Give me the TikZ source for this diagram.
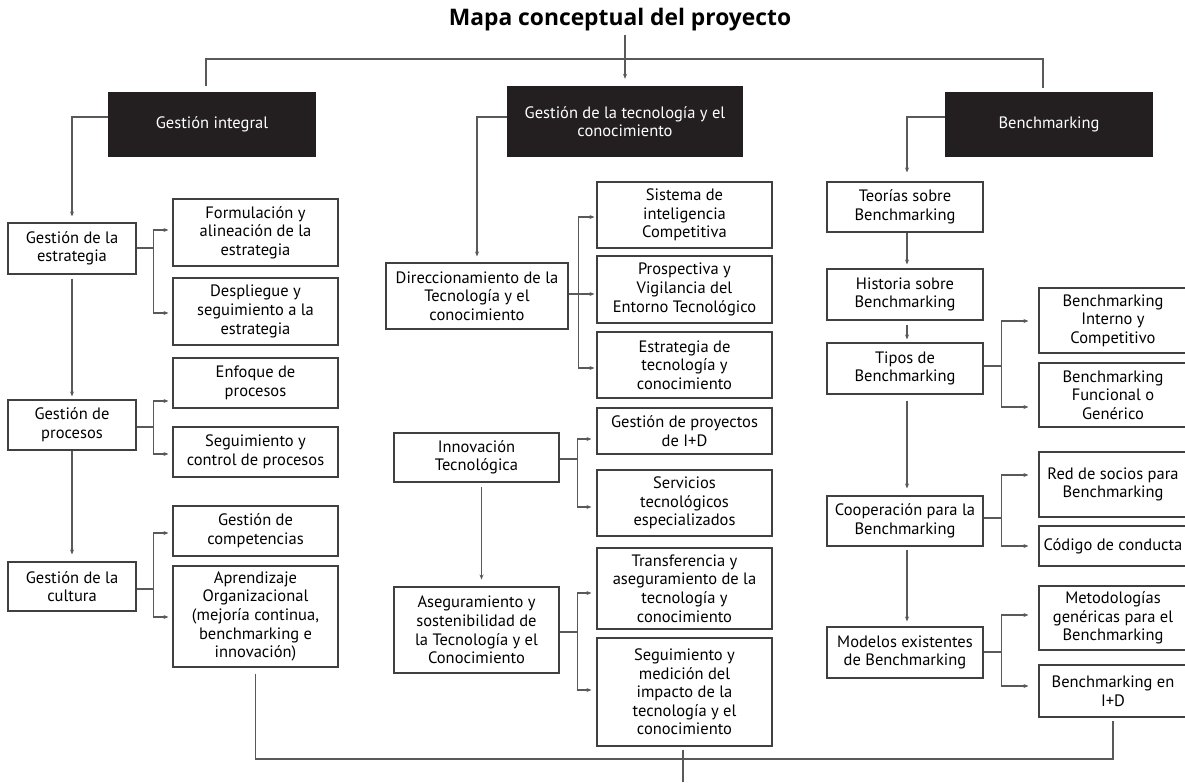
\documentclass[tikz,border=0pt]{standalone}
\usepackage{fontspec}
\setmainfont{PT Sans}
\newfontfamily\titlefont{Open Sans}
\usetikzlibrary{arrows.meta}
\definecolor{headFill}{HTML}{231F20}
\definecolor{lineGray}{HTML}{58595B}
\begin{document}
\begin{tikzpicture}
        [x=1pt, y=-1pt,
        box/.style={rectangle, draw=black!75, line width=1.1pt, align=center, inner sep=0pt, font=\fontsize{16.5}{18.6}\selectfont},
        boxHead/.style={rectangle, fill=headFill, text=white, align=center, inner sep=0pt, font=\fontsize{16.5}{18.6}\selectfont},
        conn/.style={draw=lineGray, line width=1.1pt},
        >={Stealth[length=5pt, width=4pt]}]
        \useasboundingbox (0,0) rectangle (1185,782);
        \node[font=\titlefont\bfseries\fontsize{22.8}{26}\selectfont] (title) at (620,20) {Mapa conceptual del proyecto};
        % heads
        \node[boxHead, minimum width=208pt, minimum height=65pt] (gi) at (212,124.5) {Gestión integral};
        \node[boxHead, minimum width=236pt, minimum height=71pt] (gt) at (625,121.5) {Gestión de la tecnología y el\\conocimiento};
        \node[boxHead, minimum width=208pt, minimum height=65pt] (bm) at (1049,124.5) {Benchmarking};
        % gestion integral
        \node[box, minimum width=128pt, minimum height=51pt] (estr) at (72,248.5) {Gestión de la\\estrategia};
        \node[box, minimum width=128pt, minimum height=50pt] (proc) at (72,425) {Gestión de\\procesos};
        \node[box, minimum width=128pt, minimum height=49pt] (cult) at (72,586.5) {Gestión de la\\cultura};
        \node[box, minimum width=165pt, minimum height=67pt] (form) at (255.5,232.5) {Formulación y\\alineación de la\\estrategia};
        \node[box, minimum width=165pt, minimum height=67pt] (desp) at (255.5,311.5) {Despliegue y\\seguimiento a la\\estrategia};
        \node[box, minimum width=165pt, minimum height=50pt] (enfo) at (255.5,383) {Enfoque de\\procesos};
        \node[box, minimum width=165pt, minimum height=50pt] (segc) at (255.5,452) {Seguimiento y\\control de procesos};
        \node[box, minimum width=165pt, minimum height=50pt] (comp) at (255.5,531) {Gestión de\\competencias};
        \node[box, minimum width=165pt, minimum height=101pt] (apre) at (255.5,616.5) {Aprendizaje\\Organizacional\\(mejoría continua,\\benchmarking e\\innovación)};
        % tecnologia y conocimiento
        \node[box, minimum width=182pt, minimum height=66pt] (dir) at (477,296) {Direccionamiento de la\\Tecnología y el\\conocimiento};
        \node[box, minimum width=165pt, minimum height=49pt] (inn) at (476.5,457.5) {Innovación\\Tecnológica};
        \node[box, minimum width=165pt, minimum height=86pt] (ase) at (476.5,630) {Aseguramiento y\\sostenibilidad de\\la Tecnología y el\\Conocimiento};
        \node[box, minimum width=175pt, minimum height=66pt] (sis) at (684.5,215) {Sistema de\\inteligencia\\Competitiva};
        \node[box, minimum width=175pt, minimum height=67pt] (pro) at (684.5,289.5) {Prospectiva y\\Vigilancia del\\Entorno Tecnológico};
        \node[box, minimum width=175pt, minimum height=66pt] (est) at (684.5,365) {Estrategia de\\tecnología y\\conocimiento};
        \node[box, minimum width=175pt, minimum height=46pt] (gpy) at (684.5,431) {Gestión de proyectos\\de I+D};
        \node[box, minimum width=175pt, minimum height=66pt] (ser) at (684.5,503) {Servicios\\tecnológicos\\especializados};
        \node[box, minimum width=175pt, minimum height=81pt] (tra) at (684.5,588.5) {Transferencia y\\aseguramiento de la\\tecnología y\\conocimiento};
        \node[box, minimum width=175pt, minimum height=108pt] (sme) at (684.5,692) {Seguimiento y\\medición del\\impacto de la\\tecnología y el\\conocimiento};
        % benchmarking
        \node[box, minimum width=156pt, minimum height=50pt] (teo) at (905,207) {Teorías sobre\\Benchmarking};
        \node[box, minimum width=156pt, minimum height=51pt] (his) at (905,294.5) {Historia sobre\\Benchmarking};
        \node[box, minimum width=156pt, minimum height=51pt] (tip) at (905,368.5) {Tipos de\\Benchmarking};
        \node[box, minimum width=156pt, minimum height=50pt] (coo) at (905,521) {Cooperación para la\\Benchmarking};
        \node[box, minimum width=156pt, minimum height=51pt] (mod) at (905,652.5) {Modelos existentes\\de Benchmarking};
        \node[box, minimum width=148pt, minimum height=65pt] (bin) at (1113,320.5) {Benchmarking\\Interno y\\Competitivo};
        \node[box, minimum width=148pt, minimum height=64pt] (bfu) at (1113,395) {Benchmarking\\Funcional o\\Genérico};
        \node[box, minimum width=148pt, minimum height=65pt] (red) at (1113,484.5) {Red de socios para\\Benchmarking};
        \node[box, minimum width=148pt, minimum height=40pt] (cod) at (1113,546) {Código de conducta};
        \node[box, minimum width=148pt, minimum height=64pt] (met) at (1113,618) {Metodologías\\genéricas para el\\Benchmarking};
        \node[box, minimum width=148pt, minimum height=52pt] (bid) at (1113,691) {Benchmarking en\\I+D};
        \coordinate (busL) at (206,86);
        \coordinate (busR) at (1043,88);

        \draw[conn, ->] (title.south -| gt.north) -- ([yshift=7pt]gt.north);
        \draw[conn] (busL) |- (busR |- 0,59) -- (busR);
        \draw[conn, ->] (gi.west |- 0,117) -| ([yshift=6pt]estr.north);
        \draw[conn, ->] (gt.west |- 0,117) -| ([yshift=6pt]dir.north);
        \draw[conn, ->] (bm.west |- 0,117) -| ([xshift=2pt, yshift=9pt]teo.north);

        \draw[conn, ->] ([yshift=-4pt]estr.south) -- ([yshift=3pt]proc.north);
        \draw[conn, ->] (proc.south) -- ([yshift=7pt]cult.north);
        \draw[conn, ->] (estr.east |- 0,248) -- ++(17,0) |- ([xshift=-4pt]form.west |- 0,230);
        \draw[conn, ->] (estr.east |- 0,248) -- ++(17,0) |- ([xshift=-4pt]desp.west |- 0,313);
        \draw[conn, ->] (proc.east |- 0,427) -- ++(17,0) |- ([xshift=-4pt]enfo.west |- 0,401);
        \draw[conn, ->] (proc.east |- 0,427) -- ++(17,0) |- ([xshift=-4pt]segc.west |- 0,454);
        \draw[conn, ->] (cult.east |- 0,589) -- ++(17,0) |- ([xshift=-4pt]comp.west |- 0,533);
        \draw[conn, ->] (cult.east |- 0,589) -- ++(17,0) |- ([xshift=-4pt]apre.west |- 0,617);

        \draw[conn, ->] ([xshift=5pt, yshift=-4pt]inn.south) -- ([xshift=5pt, yshift=7pt]ase.north);
        \draw[conn, ->] (dir.east |- 0,294) -- ++(10,0) |- ([xshift=-2pt]sis.west |- 0,217);
        \draw[conn, ->] (dir.east |- 0,294) -- ([xshift=-2pt]pro.west |- 0,294);
        \draw[conn, ->] (dir.east |- 0,294) -- ++(10,0) |- ([xshift=-2pt]est.west |- 0,368);
        \draw[conn, ->] (inn.east |- 0,459) -- ++(18,0) |- ([xshift=-5pt]gpy.west |- 0,439);
        \draw[conn, ->] (inn.east |- 0,459) -- ++(18,0) |- ([xshift=-5pt]ser.west |- 0,507);
        \draw[conn, ->] (ase.east |- 0,632) -- ++(18,0) |- ([xshift=-5pt]tra.west |- 0,593);
        \draw[conn, ->] (ase.east |- 0,632) -- ++(18,0) |- ([xshift=-5pt]sme.west |- 0,690);

        \draw[conn, ->] ([xshift=2pt]teo.south) -- ([xshift=2pt, yshift=4pt]his.north);
        \draw[conn, ->] ([xshift=2pt, yshift=-4pt]his.south) -- ([xshift=2pt, yshift=3pt]tip.north);
        \draw[conn, ->] ([xshift=2pt, yshift=-6pt]tip.south) -- ([xshift=2pt, yshift=7pt]coo.north);
        \draw[conn, ->] ([xshift=2pt, yshift=-3pt]coo.south) -- ([xshift=2pt, yshift=5pt]mod.north);
        \draw[conn, ->] (tip.east |- 0,366) -- ++(18,0) |- ([xshift=-10pt]bin.west |- 0,321);
        \draw[conn, ->] (tip.east |- 0,366) -- ++(18,0) |- ([xshift=-10pt]bfu.west |- 0,407);
        \draw[conn, ->] (coo.east |- 0,518) -- ++(18,0) |- ([xshift=-10pt]red.west |- 0,475);
        \draw[conn, ->] (coo.east |- 0,518) -- ++(18,0) |- ([xshift=-10pt]cod.west |- 0,546);
        \draw[conn, ->] (mod.east |- 0,652) -- ++(18,0) |- ([xshift=-10pt]met.west |- 0,615);
        \draw[conn, ->] (mod.east |- 0,652) -- ++(18,0) |- ([xshift=-10pt]bid.west |- 0,686);

        \draw[conn] ([yshift=-6pt]apre.south) |- (bid.south |- 0,759) -- ([yshift=-3pt]bid.south);
        \draw[conn] ([xshift=-1.5pt, yshift=-3pt]sme.south) -- ([xshift=-1.5pt]sme.south |- 0,782);
    \end{tikzpicture}
\end{document}
